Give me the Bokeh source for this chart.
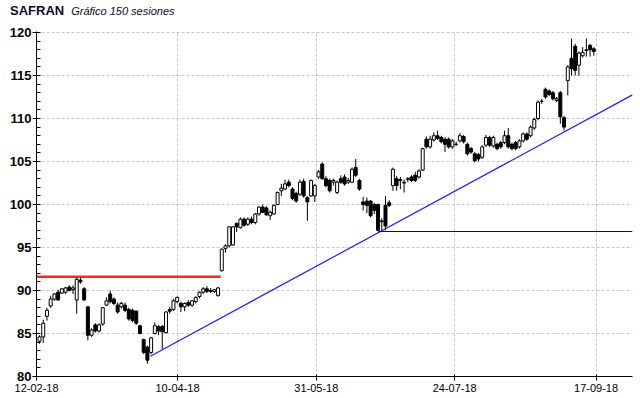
from bokeh.plotting import figure
from bokeh.models import Range1d, FixedTicker, Div
from bokeh.layouts import column
from bokeh.embed import file_html
from bokeh.resources import INLINE

# ---- data ----
opens = [84.1, 84.6, 87.0, 88.2, 89.0, 89.8, 89.7, 89.8, 90.4, 90.1,
         88.9, 91.2, 90.2, 88.1, 84.8, 86.0, 85.3, 86.1, 88.3, 89.6,
         89.0, 88.3, 88.1, 88.3, 87.8, 87.7, 87.6, 85.9, 84.3, 83.4,
         82.8, 85.0, 85.8, 85.8, 85.1, 87.8, 87.8, 88.7, 88.5, 88.1,
         88.6, 88.3, 88.7, 89.3, 89.8, 90.2, 90.0, 89.9, 89.4, 92.3,
         94.9, 95.2, 95.3, 97.8, 97.3, 98.3, 97.7, 98.3, 97.9, 98.9,
         99.7, 99.6, 98.7, 98.9, 100.0, 101.6, 101.8, 102.6, 101.8, 101.3,
         101.2, 102.7, 100.8, 101.0, 101.0, 103.2, 104.7, 103.0, 102.8, 102.6,
         101.4, 103.0, 103.2, 102.6, 102.6, 104.3, 102.8, 100.3, 100.4, 100.4,
         100.0, 100.0, 98.0, 99.9, 100.2, 102.2, 103.0, 102.8, 102.5, 102.9,
         103.2, 103.4, 103.2, 104.0, 107.6, 106.7, 107.5, 108.0, 107.8, 107.6,
         107.6, 106.7, 107.0, 107.4, 107.9, 107.0, 106.5, 105.9, 105.8, 105.5,
         106.9, 107.8, 106.8, 107.0, 107.2, 107.2, 108.0, 107.0, 107.2, 106.7,
         107.4, 108.2, 108.0, 108.9, 110.0, 112.0, 113.4, 113.2, 113.0, 112.1,
         113.0, 110.1, 114.4, 117.0, 118.4, 116.2, 117.3, 117.9, 118.5, 118.1]
highs = [84.8, 86.6, 88.0, 89.4, 89.7, 90.1, 90.3, 90.4, 90.6, 90.6,
         91.5, 91.5, 90.4, 88.2, 85.6, 86.2, 86.2, 88.1, 89.2, 90.0,
         89.2, 88.6, 88.7, 88.6, 88.0, 87.9, 87.7, 86.0, 84.4, 83.6,
         84.6, 86.3, 86.0, 86.0, 87.6, 88.1, 89.0, 89.3, 88.7, 88.6,
         88.9, 88.9, 89.3, 89.9, 90.4, 90.5, 90.3, 90.2, 90.4, 94.9,
         95.4, 97.5, 97.5, 97.9, 98.5, 98.5, 98.5, 98.6, 99.0, 99.8,
         100.0, 99.8, 99.3, 100.0, 101.5, 102.4, 102.9, 102.9, 102.0, 101.5,
         102.9, 103.0, 101.0, 102.9, 102.4, 104.0, 104.9, 103.3, 103.0, 103.0,
         102.8, 103.4, 103.5, 103.1, 104.3, 105.3, 103.0, 100.9, 100.8, 100.5,
         100.2, 100.1, 98.4, 101.0, 100.5, 104.3, 103.3, 103.2, 102.9, 103.2,
         103.4, 103.8, 104.1, 106.6, 107.9, 108.0, 108.4, 108.6, 108.0, 107.8,
         107.8, 107.6, 107.3, 108.3, 108.1, 107.2, 106.7, 106.1, 106.0, 106.9,
         108.1, 108.0, 108.0, 107.2, 107.4, 108.6, 108.9, 107.2, 107.4, 107.6,
         108.4, 108.4, 109.2, 110.1, 112.1, 112.3, 113.6, 113.4, 113.2, 112.5,
         113.2, 110.3, 116.2, 119.3, 118.7, 117.8, 118.3, 119.3, 118.7, 118.3]
lows = [83.8, 83.9, 86.5, 88.0, 88.8, 88.8, 89.6, 89.6, 89.9, 89.6,
        87.3, 90.8, 88.8, 84.2, 84.6, 85.1, 85.1, 85.9, 88.2, 88.5,
        88.3, 87.3, 87.9, 87.5, 86.5, 86.3, 86.0, 84.9, 82.6, 81.5,
        82.6, 84.9, 84.8, 83.2, 85.0, 87.3, 87.6, 88.5, 87.5, 87.6,
        88.1, 88.1, 88.5, 89.1, 89.6, 89.7, 89.7, 89.7, 89.3, 92.2,
        94.4, 95.0, 95.2, 96.8, 97.2, 97.4, 97.5, 97.7, 97.7, 98.7,
        99.0, 98.7, 98.2, 98.8, 99.9, 101.0, 101.7, 102.0, 100.5, 100.2,
        101.0, 100.8, 98.1, 100.9, 100.3, 103.0, 102.9, 102.0, 101.4, 102.2,
        101.2, 102.4, 102.2, 102.4, 102.5, 103.2, 101.6, 99.3, 99.0, 98.5,
        98.9, 96.9, 97.0, 97.0, 99.7, 101.6, 101.6, 101.8, 101.4, 102.6,
        102.6, 102.6, 103.0, 103.9, 106.5, 106.5, 107.3, 107.5, 107.1, 106.1,
        106.5, 106.5, 106.8, 107.2, 107.1, 105.7, 105.9, 104.9, 105.0, 105.3,
        106.7, 106.7, 106.6, 106.3, 106.5, 107.0, 106.5, 106.3, 106.3, 106.5,
        107.2, 107.4, 107.8, 108.7, 109.8, 111.7, 112.3, 112.6, 112.1, 111.9,
        109.4, 108.6, 112.7, 115.0, 115.0, 115.0, 117.1, 117.2, 117.2, 117.3]
closes = [84.6, 86.2, 87.7, 89.0, 89.6, 88.9, 90.2, 90.3, 90.0, 90.3,
          91.3, 91.0, 88.9, 84.8, 85.4, 85.3, 86.0, 88.0, 88.8, 88.7,
          88.5, 87.5, 88.5, 87.7, 86.7, 86.5, 86.2, 85.0, 82.8, 81.9,
          84.5, 85.9, 85.3, 85.2, 87.5, 87.6, 88.8, 89.2, 88.1, 88.5,
          88.3, 88.8, 89.2, 89.8, 90.2, 89.9, 89.9, 90.1, 90.3, 94.8,
          95.2, 97.4, 97.4, 97.4, 98.3, 97.6, 98.3, 97.9, 98.9, 99.7,
          99.1, 98.8, 99.1, 99.9, 101.4, 101.9, 102.4, 102.2, 100.7, 100.4,
          102.6, 101.0, 100.3, 102.8, 102.2, 103.8, 103.0, 102.2, 101.6, 102.8,
          102.6, 102.6, 102.4, 102.8, 104.1, 103.4, 101.8, 100.0, 99.9, 98.7,
          99.3, 97.0, 98.1, 97.5, 99.9, 104.1, 102.2, 102.9, 102.6, 103.0,
          102.8, 102.8, 103.9, 106.5, 106.7, 107.6, 108.0, 107.7, 107.3, 107.0,
          106.7, 107.4, 107.0, 108.0, 107.3, 105.9, 106.1, 105.1, 105.3, 106.7,
          107.8, 106.9, 107.8, 106.5, 106.7, 108.0, 106.7, 106.5, 106.5, 107.4,
          108.2, 107.6, 109.0, 109.9, 111.9, 112.0, 112.5, 112.8, 112.3, 112.3,
          110.2, 109.0, 116.0, 115.8, 115.6, 117.6, 117.7, 118.0, 118.0, 117.8]

x_tick_pos = [-0.8, 37.1, 74.4, 111.6, 149.6]
x_tick_labels = ["12-02-18", "10-04-18", "31-05-18", "24-07-18", "17-09-18"]
y_ticks = [80, 85, 90, 95, 100, 105, 110, 115, 120]

resistance_x = [-0.8, 48.7]
resistance_y = [91.6, 91.6]
trend_x = [29.8, 159.4]
trend_y = [82.36, 112.75]
support_x = [91.1, 159.4]
support_y = [96.86, 96.86]

title_text = "SAFRAN"
subtitle_text = "Gráfico 150 sesiones"

# ---- derived ----
idx = list(range(len(closes)))
tops = [max(o, c) for o, c in zip(opens, closes)]
bots = [min(o, c) for o, c in zip(opens, closes)]
fills = ["white" if c >= o else "black" for o, c in zip(opens, closes)]

p = figure(width=640, height=375, output_backend="svg", toolbar_location=None,
           x_range=Range1d(-0.81, 159.4), y_range=Range1d(80, 120.12),
           min_border_left=36, min_border_right=8, min_border_top=8,
           min_border_bottom=22, margin=(0, 0, 0, 0))
p.outline_line_color = None
p.background_fill_color = "white"
p.border_fill_color = "white"

# grids
p.xgrid.ticker = FixedTicker(ticks=x_tick_pos)
p.ygrid.ticker = FixedTicker(ticks=y_ticks[1:])
for g in (p.xgrid, p.ygrid):
    g.grid_line_color = "#c8c8d0"
    g.grid_line_dash = "3 2"
    g.grid_line_width = 1

# axes
xa = p.xaxis[0]
xa.ticker = FixedTicker(ticks=x_tick_pos)
xa.major_label_overrides = {t: l for t, l in zip(x_tick_pos, x_tick_labels)}
xa.major_label_text_font = "Liberation Sans"
xa.major_label_text_font_size = "11px"
xa.major_label_text_color = "black"
xa.major_tick_out = 4
xa.major_tick_in = 2
xa.minor_tick_out = 0
xa.minor_tick_in = 0
xa.major_label_standoff = 3
xa.axis_line_color = "black"

ya = p.yaxis[0]
ya.ticker = FixedTicker(ticks=y_ticks, minor_ticks=[v for v in range(80, 121)])
ya.major_label_text_font = "Liberation Sans"
ya.major_label_text_font_style = "bold"
ya.major_label_text_font_size = "13px"
ya.major_label_text_color = "black"
ya.major_tick_out = 4
ya.major_tick_in = 0
ya.minor_tick_in = 4
ya.minor_tick_out = 0
ya.major_label_standoff = 1
ya.axis_line_color = "black"

# reference lines
p.line(resistance_x, resistance_y, line_color="#ff0000", line_width=2.5, line_alpha=0.85)
p.line(trend_x, trend_y, line_color="#2020ff", line_width=1.2)
p.line(support_x, support_y, line_color="#0000b0", line_width=1.2)

# candles
p.segment(x0=idx, y0=lows, x1=idx, y1=highs, line_color="black", line_width=1)
p.vbar(x=idx, width=0.8, top=tops, bottom=bots, fill_color=fills,
       line_color="black", line_width=1)

# title row
head = Div(
    text=(f'<span style="font-weight:bold;font-size:13px;">{title_text}</span>'
          f'<span style="font-style:italic;font-size:11px;margin-left:7px;">{subtitle_text}</span>'),
    width=640, height=23, margin=(0, 0, 0, 0),
    styles={"font-family": "Liberation Sans, Arial, sans-serif", "color": "#0a0a1e",
            "padding-left": "10px", "padding-top": "3px", "line-height": "15px",
            "white-space": "nowrap"})

layout = column(head, p, spacing=0, margin=(0, 0, 0, 0))
open("out.html", "w").write(file_html(layout, INLINE))
